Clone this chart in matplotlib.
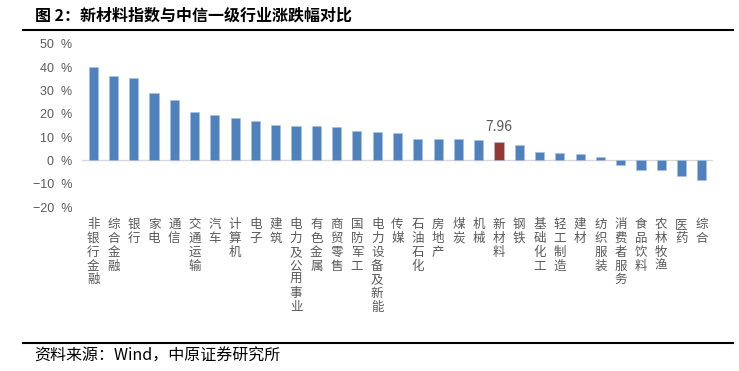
import matplotlib
matplotlib.use("Agg")
import matplotlib.pyplot as plt
from matplotlib.lines import Line2D

plt.rcParams['font.family'] = ['Noto Sans CJK SC', 'DejaVu Sans']

categories = ["非银行金融", "综合金融", "银行", "家电", "通信", "交通运输", "汽车", "计算机",
              "电子", "建筑", "电力及公用事业", "有色金属", "商贸零售", "国防军工", "电力设备及新能",
              "传媒", "石油石化", "房地产", "煤炭", "机械", "新材料", "钢铁", "基础化工",
              "轻工制造", "建材", "纺织服装", "消费者服务", "食品饮料", "农林牧渔", "医药", "综合"]
values = [40.0, 36.3, 35.3, 28.9, 26.0, 20.6, 19.5, 18.2, 16.9, 15.3, 14.9, 14.7, 14.3,
          12.7, 12.3, 11.9, 9.4, 9.0, 9.0, 8.9, 7.96, 6.6, 3.6, 3.1, 2.9, 1.6, -1.9,
          -4.3, -4.3, -6.7, -8.3]
highlight = "新材料"
yticks = [50, 40, 30, 20, 10, 0, -10, -20]

blue = "#4F81BD"
red = "#953735"
grey = "#595959"

fig = plt.figure(figsize=(7.39, 3.71), dpi=100)
ax = fig.add_axes([82/739, 1 - 207/371, (713 - 82)/739, (207 - 44)/371])

x = list(range(len(categories)))
colors = [red if c == highlight else blue for c in categories]
ax.bar(x, values, width=0.45, color=colors, edgecolor="#A9C1E0", linewidth=0.4, zorder=2)

hi = categories.index(highlight)
ax.text(hi, values[hi] + 3.3, f"{values[hi]:.2f}", ha="center", va="bottom",
        fontsize=10, color=grey)

ax.set_ylim(-20, 50)
ax.set_yticks(yticks)
ax.set_yticklabels([f"{v}  %".replace("-", "−") for v in yticks], fontsize=9, color=grey,
                   family=['Liberation Sans', 'DejaVu Sans'])
ax.set_xlim(-0.55, len(categories) - 0.45)
ax.set_xticks(x)
ax.set_xticklabels(["\n".join(c) for c in categories], fontsize=9, color=grey,
                   linespacing=1.08, va="top")
ax.tick_params(axis="both", length=0)
ax.tick_params(axis="x", pad=8)
ax.tick_params(axis="y", pad=7)
for s in ax.spines.values():
    s.set_visible(False)
ax.axhline(0, color="#D9D9D9", linewidth=1.0, zorder=1)

fig.text(35/739, 1 - 16/371, "图 2：新材料指数与中信一级行业涨跌幅对比", fontsize=11.5,
         fontweight="bold", color="black", va="center", ha="left")
fig.add_artist(Line2D([23/739, 733/739], [1 - 30/371, 1 - 30/371], color="black", linewidth=1.5))
fig.add_artist(Line2D([23/739, 733/739], [1 - 343/371, 1 - 343/371], color="black", linewidth=1.5))
fig.text(34/739, 1 - 356/371, "资料来源：Wind，中原证券研究所", fontsize=11.5, color="black",
         va="center", ha="left")

fig.savefig("out.png", dpi=100)
